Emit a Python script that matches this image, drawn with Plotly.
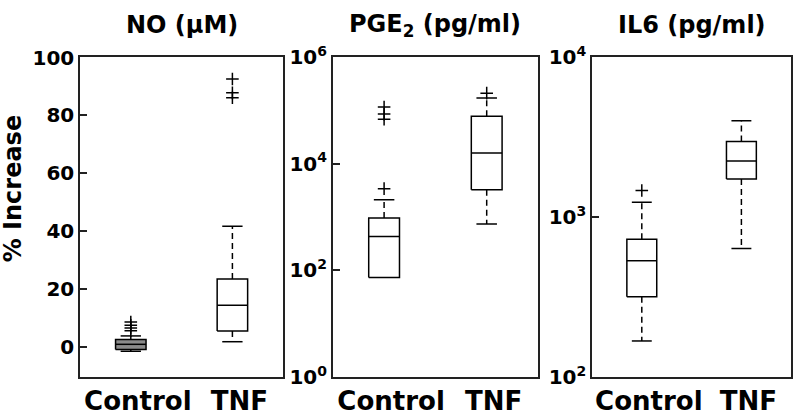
import plotly.graph_objects as go
from plotly.subplots import make_subplots

# groups on the x axis
groups = ["Control", "TNF"]
xpos = [1, 2]

# NO (uM) - box stats
no_q1 = [-0.9, 5.5]
no_med = [0.9, 14.4]
no_q3 = [2.6, 23.5]
no_lo = [-1.5, 1.8]
no_hi = [3.8, 41.7]
no_out_control = [5.6, 6.5, 7.5, 8.6]
no_out_tnf = [86.1, 87.8, 92.6]

# PGE2 (pg/ml)
pge_q1 = [73, 3230]
pge_med = [431, 15800]
pge_q3 = [955, 77000]
pge_lo = [73, 740]
pge_hi = [2100, 170000]
pge_out_control = [3400, 68000, 85000, 115000]
pge_out_tnf = [210000]

# IL6 (pg/ml)
il6_q1 = [317, 1730]
il6_med = [533, 2240]
il6_q3 = [725, 2960]
il6_lo = [168, 636]
il6_hi = [1235, 3990]
il6_out_control = [1463]
il6_out_tnf = []

FONT = "DejaVu Sans"
bw = 0.15   # half box width (x units)
cw = 0.1    # half cap width


def add_box(fig, col, x, q1, med, q3, lo, hi, outl, fill="white"):
    blk = dict(color="black", width=1.5)
    # box
    fig.add_trace(go.Scatter(x=[x-bw, x+bw, x+bw, x-bw, x-bw], y=[q1, q1, q3, q3, q1],
                             mode="lines", line=blk, fill="toself", fillcolor=fill,
                             showlegend=False, hoverinfo="skip"), row=1, col=col)
    # median
    fig.add_trace(go.Scatter(x=[x-bw, x+bw], y=[med, med], mode="lines", line=blk,
                             showlegend=False, hoverinfo="skip"), row=1, col=col)
    # whiskers (dashed)
    for a, b in [(q3, hi), (q1, lo)]:
        if a != b:
            fig.add_trace(go.Scatter(x=[x, x], y=[a, b], mode="lines",
                                     line=dict(color="black", width=1.5, dash="6px,4px"),
                                     showlegend=False, hoverinfo="skip"), row=1, col=col)
            fig.add_trace(go.Scatter(x=[x-cw, x+cw], y=[b, b], mode="lines", line=blk,
                                     showlegend=False, hoverinfo="skip"), row=1, col=col)
    if outl:
        fig.add_trace(go.Scatter(x=[x]*len(outl), y=outl, mode="markers",
                                 marker=dict(symbol="cross-thin", size=9,
                                             line=dict(color="black", width=1.5)),
                                 showlegend=False, hoverinfo="skip"), row=1, col=col)


fig = make_subplots(rows=1, cols=3)

add_box(fig, 1, xpos[0], no_q1[0], no_med[0], no_q3[0], no_lo[0], no_hi[0], no_out_control, fill="#8a8a8a")
add_box(fig, 1, xpos[1], no_q1[1], no_med[1], no_q3[1], no_lo[1], no_hi[1], no_out_tnf)
add_box(fig, 2, xpos[0], pge_q1[0], pge_med[0], pge_q3[0], pge_lo[0], pge_hi[0], pge_out_control)
add_box(fig, 2, xpos[1], pge_q1[1], pge_med[1], pge_q3[1], pge_lo[1], pge_hi[1], pge_out_tnf)
add_box(fig, 3, xpos[0], il6_q1[0], il6_med[0], il6_q3[0], il6_lo[0], il6_hi[0], il6_out_control)
add_box(fig, 3, xpos[1], il6_q1[1], il6_med[1], il6_q3[1], il6_lo[1], il6_hi[1], il6_out_tnf)

xdoms = [(0.100, 0.354), (0.416, 0.6725), (0.740, 0.989)]
ydom = (0.1002, 0.864)

axis_common = dict(showline=True, linecolor="#222", linewidth=1.5, mirror=True,
                   showgrid=False, zeroline=False, automargin=False)

for i, d in enumerate(xdoms, start=1):
    fig.update_xaxes(domain=d, range=[0.5, 2.5], tickvals=xpos, ticktext=groups,
                     ticks="", tickfont=dict(family=FONT, size=26, color="black", weight="bold"),
                     ticklabelshift=7, row=1, col=i, **axis_common)
    fig.update_yaxes(domain=ydom, ticks="inside", ticklen=7, tickwidth=1.5,
                     tickcolor="#222",
                     tickfont=dict(family=FONT, size=20, color="black", weight="bold"),
                     row=1, col=i, **axis_common)

fig.update_yaxes(range=[-10.4, 100.2], tickvals=[0, 20, 40, 60, 80, 100],
                 ticktext=["0", "20", "40", "60", "80", "100"], row=1, col=1)
fig.update_yaxes(type="log", range=[0, 6], tickvals=[1, 100, 1e4, 1e6],
                 ticktext=["10<sup>0</sup>", "10<sup>2</sup>", "10<sup>4</sup>", "10<sup>6</sup>"],
                 row=1, col=2)
fig.update_yaxes(type="log", range=[2, 4], tickvals=[100, 1000, 10000],
                 ticktext=["10<sup>2</sup>", "10<sup>3</sup>", "10<sup>4</sup>"],
                 row=1, col=3)

titles = ["NO (\u03bcM)", "PGE<sub>2</sub> (pg/ml)", "IL6 (pg/ml)"]
for t, d in zip(titles, xdoms):
    fig.add_annotation(text="<b>%s</b>" % t, xref="paper", yref="paper",
                       x=(d[0]+d[1])/2, y=0.94, xanchor="center", yanchor="middle",
                       showarrow=False, font=dict(family=FONT, size=24, color="black"))

fig.add_annotation(text="<b>% Increase</b>", xref="paper", yref="paper", textangle=-90,
                   x=0.016, y=0.55, xanchor="center", yanchor="middle", showarrow=False,
                   font=dict(family=FONT, size=24, color="black"))

fig.update_layout(width=800, height=419, margin=dict(l=0, r=0, t=0, b=0),
                  plot_bgcolor="white", paper_bgcolor="white",
                  font=dict(family=FONT, color="black"))

# drop the default 8px page margin so the figure sits at the window corner
fig.write_html("out.html", config={"displayModeBar": False},
               post_script="document.body.style.margin='0';")
